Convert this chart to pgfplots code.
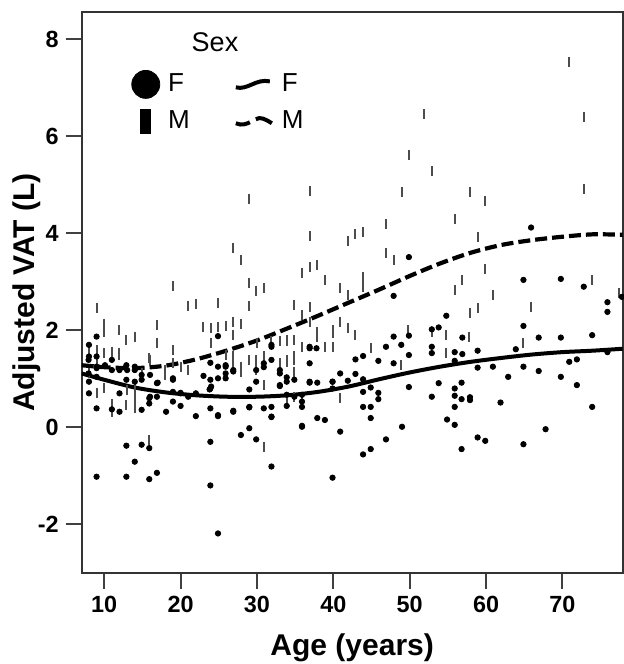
\documentclass[border=0pt]{standalone}
\usepackage{fontspec}
\setmainfont{Liberation Sans}
\usepackage{pgfplots}
\pgfplotsset{compat=1.18}
\usepackage{pgfplotstable}

% female subjects (dots)
\pgfplotstableread{
age vat
65.9 4.12
49.9 3.51
47.9 2.71
64.9 3.04
69.8 3.06
72.8 2.90
75.9 2.58
75.9 2.38
77.8 2.69
54.8 2.30
52.9 2.02
53.8 2.06
64.9 2.09
47.9 1.87
49.9 1.89
56.9 1.85
66.9 1.85
69.8 1.85
73.9 1.90
46.9 1.66
48.9 1.70
52.9 1.66
52.9 1.53
49.9 1.49
55.9 1.55
56.9 1.51
58.9 1.58
63.9 1.61
43.9 1.47
42.9 1.40
45.9 1.37
47.9 1.32
55.9 1.37
70.9 1.35
71.9 1.40
75.9 1.55
58.9 1.23
60.9 1.25
64.9 1.25
39.9 0.94
40.9 1.11
41.9 0.96
42.9 1.10
43.9 0.99
44.9 0.82
49.9 0.83
53.8 0.91
55.9 0.80
56.8 0.92
62.9 1.04
66.9 1.16
69.8 1.04
71.9 0.87
43.9 0.73
45.9 0.71
45.9 0.58
52.9 0.63
55.9 0.65
56.8 0.58
57.9 0.62
57.9 0.56
61.9 0.51
73.9 0.42
43.9 0.42
44.9 0.42
55.9 0.42
44.9 0.19
54.9 0.16
55.9 0.05
49.0 0.01
40.9 -0.09
67.8 -0.04
46.9 -0.25
58.9 -0.21
59.9 -0.28
64.9 -0.35
44.9 -0.45
43.9 -0.56
56.8 -0.45
39.9 -1.04
9.0 1.87
8.0 1.70
8.0 1.46
8.0 0.94
8.0 0.70
9.0 0.39
11.0 0.37
12.0 0.32
12.0 0.70
11.0 1.39
10.1 1.28
9.0 1.22
9.0 1.04
12.9 1.28
14.0 1.25
12.9 0.98
14.0 0.94
14.9 0.36
15.9 0.60
15.9 0.49
16.9 0.91
16.9 0.63
18.1 0.32
19.0 1.01
19.0 0.53
20.0 0.71
21.0 0.63
22.0 0.70
22.0 0.23
23.0 1.06
23.9 1.33
23.9 0.98
23.9 0.80
23.9 0.39
23.9 -0.30
23.9 -1.20
24.9 1.88
24.9 0.23
25.9 1.28
25.9 1.11
26.9 1.18
26.9 0.34
27.9 -0.16
29.0 -0.02
29.0 0.41
29.9 0.94
29.9 -0.25
30.9 1.32
30.9 0.39
31.9 1.66
31.9 0.22
31.9 -0.81
33.0 1.11
33.0 0.87
33.9 0.94
34.9 0.98
35.9 0.01
36.9 1.66
36.9 1.32
36.9 0.92
37.9 0.19
38.9 0.15
39.9 0.80
9.0 -1.02
12.9 -0.38
14.0 -0.71
14.9 -0.36
15.9 -0.43
15.9 -1.07
16.9 -0.94
12.9 -1.02
24.9 -2.19
7.95 1.39
7.95 1.11
9.0 1.25
9.0 1.46
11.0 1.18
12.0 1.18
13.0 1.18
14.0 1.18
14.9 1.08
14.9 0.98
16.0 1.08
16.0 0.63
17.0 0.92
19.0 0.98
19.0 0.73
20.0 0.70
20.0 0.44
23.8 0.78
24.9 1.25
24.9 1.01
25.9 1.25
25.9 1.01
26.9 1.15
24.0 0.84
29.0 0.78
29.9 1.18
30.9 1.24
31.9 1.70
31.9 1.39
33.0 1.18
33.0 0.85
33.9 1.03
35.9 0.67
35.9 0.53
35.9 0.42
34.9 0.63
33.9 0.67
33.9 0.44
36.9 1.63
37.8 1.63
36.9 0.94
37.9 0.92
39.9 0.94
24.9 0.25
26.9 0.32
29.0 0.42
31.9 0.42
31.9 0.21
35.9 0.03
}\femaletable

% male subjects (bars)
\pgfplotstableread{
age vat
9.0 2.47
10.0 2.14
10.0 1.97
12.0 2.00
12.9 1.81
14.0 1.87
10.0 1.53
11.0 1.56
12.0 1.53
9.0 0.71
10.0 0.80
14.0 0.63
16.9 2.11
16.9 1.73
19.0 2.91
21.0 2.51
22.0 2.54
24.9 2.56
24.0 2.04
24.9 2.07
25.9 2.09
26.9 3.69
27.9 3.45
29.0 4.71
29.0 2.98
29.0 2.50
29.9 2.82
30.9 2.87
27.9 2.14
19.0 1.59
15.9 1.42
30.0 1.73
31.9 1.77
33.0 1.77
33.9 1.77
34.9 2.52
35.9 3.18
36.9 3.94
36.9 4.87
36.9 3.31
37.9 3.35
38.9 3.04
36.9 2.49
35.9 2.32
37.9 1.97
38.9 1.66
39.9 1.66
39.9 1.94
34.9 1.46
33.9 1.35
30.9 -0.40
15.9 -0.26
26.8 1.90
23.0 2.07
26.9 1.47
27.9 1.15
29.9 1.18
33.0 1.32
34.9 1.15
30.9 0.87
33.9 0.58
34.9 0.63
35.9 0.58
12.9 0.46
14.0 0.49
11.0 0.49
9.0 1.32
8.0 1.11
14.9 1.11
17.9 1.18
19.0 1.32
20.0 1.25
21.0 1.18
7.95 1.59
9.0 1.59
16.0 1.39
17.95 1.08
14.0 0.84
14.0 0.39
16.0 0.56
11.0 0.32
13.0 0.77
12.0 1.49
24.0 1.73
29.9 1.39
30.9 1.46
33.9 1.39
34.9 1.39
35.9 1.66
33.9 1.80
34.9 1.80
27.9 1.25
29.0 1.39
25.9 1.49
26.9 1.35
33.9 0.53
26.9 2.18
36.9 2.18
37.9 1.87
70.9 7.54
51.9 6.46
72.8 6.39
49.9 5.61
52.9 5.28
49.0 4.86
57.9 4.86
59.9 4.67
72.8 4.91
55.9 4.29
46.9 4.19
41.9 3.84
42.9 3.98
43.9 4.03
58.9 3.93
46.9 3.59
47.9 3.45
43.9 3.09
59.9 3.26
40.9 2.87
41.9 2.73
43.9 2.89
56.9 3.04
55.9 2.83
60.9 2.73
73.9 3.04
65.9 2.49
39.9 2.00
40.9 2.18
41.9 2.04
42.9 1.90
44.9 1.63
49.8 2.00
52.9 1.97
54.8 1.90
57.9 2.35
58.9 2.45
57.8 1.87
64.9 1.73
54.8 1.53
48.9 1.28
40.9 0.60
39.9 1.66
77.4 2.77
}\maletable

\begin{document}
\begin{tikzpicture}
\begin{axis}[
  at={(0,0)}, anchor=south west,
  scale only axis, width=270.5pt, height=280.2pt,
  xmin=7.05, xmax=77.9, ymin=-3.0, ymax=8.56,
  xtick={10,20,...,70}, ytick={-2,0,...,8},
  xticklabels={10,20,30,40,50,60,70},
  yticklabels={-2,0,2,4,6,8},
  tick pos=left, tick align=outside, major tick length=8pt,
  every tick/.style={black!75, line width=1pt},
  axis line style={black!80, line width=1pt},
  ticklabel style={font=\fontsize{11.7}{14}\selectfont\bfseries},
  xlabel={Age (years)}, ylabel={Adjusted VAT (L)},
  label style={font=\fontsize{15}{18}\selectfont\bfseries},
  xlabel style={at={(axis description cs:0.5,-0.134)}, anchor=center},
  ylabel style={at={(axis description cs:-0.101,0.5)}, anchor=center},
  legend columns=2, legend cell align=left,
  legend style={at={(axis description cs:0.08,0.905)}, anchor=north west,
    draw=none, fill=none, font=\fontsize{13}{15}\selectfont,
    row sep=4pt,
    /tikz/every odd column/.append style={column sep=2pt},
    /tikz/every even column/.append style={column sep=20pt}},
]
\addplot[only marks, mark=|, mark size=2.5pt, color=black!70,
  mark options={line width=1pt}, forget plot] table[x=age, y=vat] {\maletable};
\addplot[only marks, mark=*, mark size=1.35pt, color=black,
  forget plot] table[x=age, y=vat] {\femaletable};

\addplot[black, line width=2pt, smooth, forget plot] coordinates {
(7.05,1.11) (10,0.98) (14,0.82) (18,0.72) (22,0.66) (26,0.63) (30,0.63)
(34,0.66) (38,0.73) (42,0.84) (46,0.99) (50,1.13) (54,1.25) (58,1.35)
(62,1.43) (66,1.50) (70,1.55) (74,1.58) (77.9,1.62)};
\addplot[black, line width=2.1pt, smooth, dash pattern=on 6pt off 2.5pt, forget plot] coordinates {
(7.05,1.28) (10,1.24) (14,1.22) (18,1.27) (22,1.40) (26,1.58) (30,1.79)
(34,2.04) (38,2.30) (42,2.57) (46,2.84) (50,3.12) (54,3.38) (58,3.60)
(62,3.76) (66,3.86) (70,3.93) (74,3.98) (77.9,3.97)};

\addlegendimage{legend image code/.code={\fill[black] (7pt,0) circle (7pt);}}
\addlegendentry{F}
\addlegendimage{legend image code/.code={\draw[black, line width=2pt] (0,-1.5pt) .. controls (6pt,-3pt) and (10pt,3pt) .. (17pt,1.5pt);}}
\addlegendentry{F}
\addlegendimage{legend image code/.code={\fill[black] (4.5pt,-6pt) rectangle (9.5pt,6pt);}}
\addlegendentry{M}
\addlegendimage{legend image code/.code={\draw[black, line width=2pt] (0,-1pt) .. controls (3pt,-2.5pt) and (6pt,-1pt) .. (7pt,-0.5pt);
  \draw[black, line width=2pt] (10pt,1pt) .. controls (12pt,2.5pt) and (15pt,1pt) .. (18pt,-1pt);}}
\addlegendentry{M}

\node[font=\fontsize{13.5}{16}\selectfont] at (rel axis cs:0.2464,0.947) {Sex};
\end{axis}
\pgfresetboundingbox
\path (-40.85pt,-45.65pt) rectangle (271.15pt,286.35pt);
\end{tikzpicture}
\end{document}
